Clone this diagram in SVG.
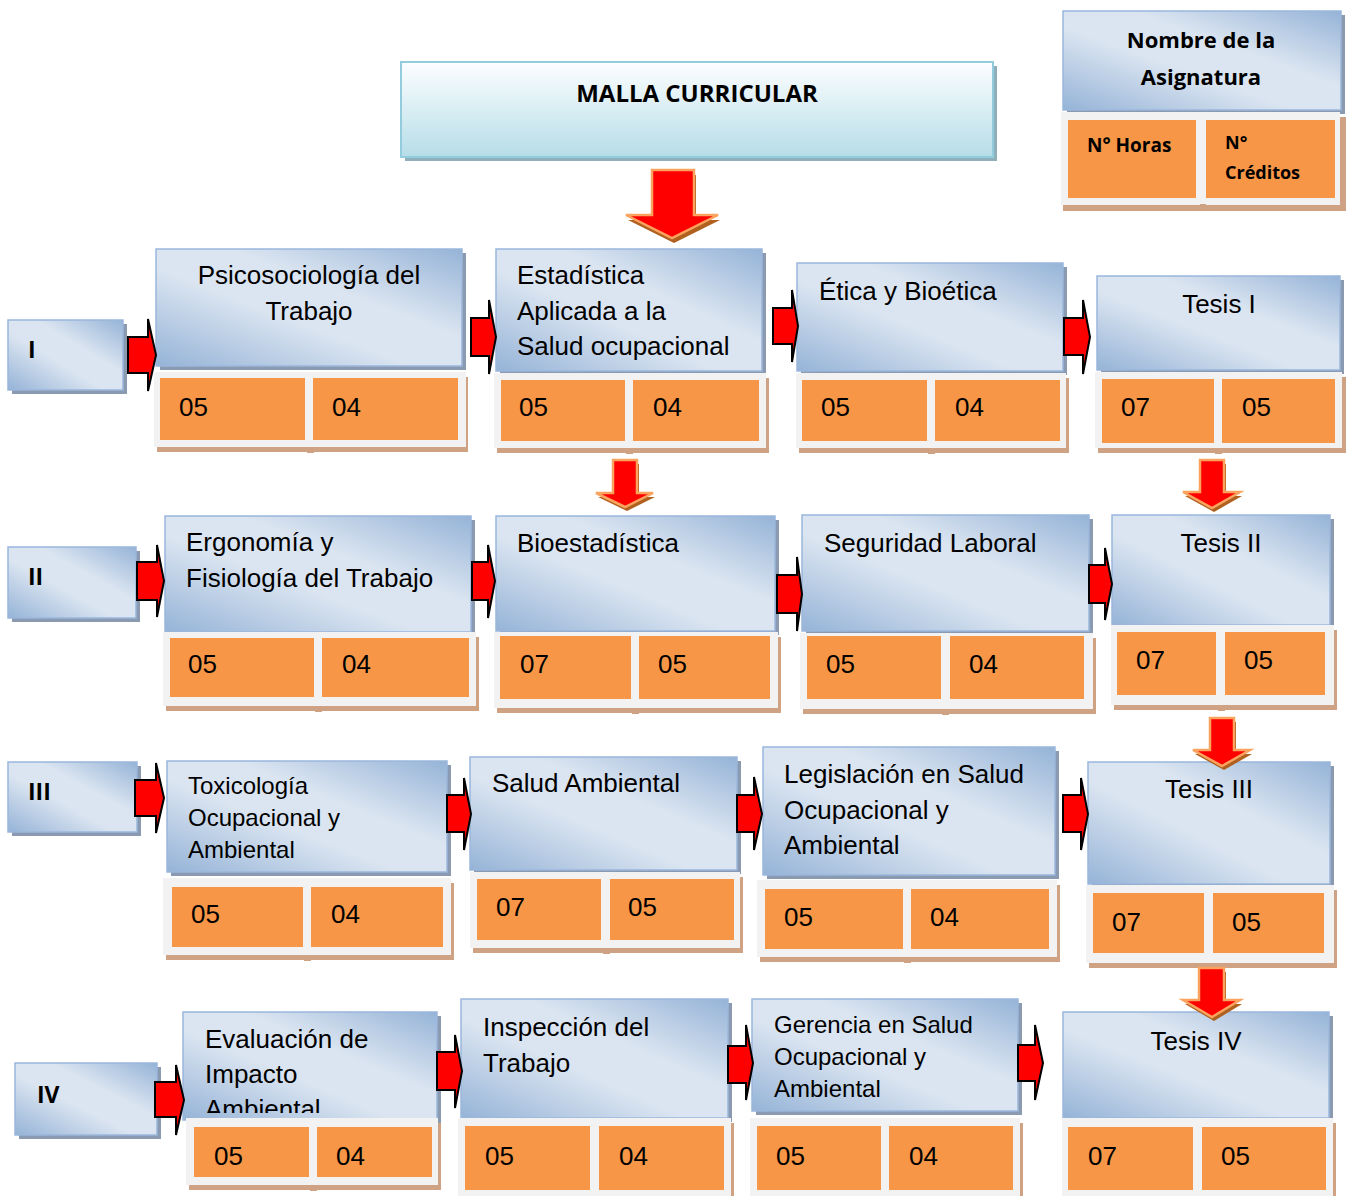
<svg xmlns="http://www.w3.org/2000/svg" width="1352" height="1196" viewBox="0 0 1352 1196">
<defs>
<linearGradient id="bg" x1="0" y1="1" x2="1" y2="0">
<stop offset="0" stop-color="#95b3d7"/>
<stop offset="0.42" stop-color="#dbe5f1"/>
<stop offset="0.62" stop-color="#dbe5f1"/>
<stop offset="1" stop-color="#95b3d7"/>
</linearGradient>
<linearGradient id="tg" x1="0" y1="0" x2="0" y2="1">
<stop offset="0" stop-color="#fdfeff"/>
<stop offset="1" stop-color="#b6dde8"/>
</linearGradient>
<clipPath id="evclip"><rect x="183" y="1012" width="254" height="101"/></clipPath>
</defs>
<style>
.sh{fill:#8a9bb1}
.box{fill:url(#bg);stroke:#9bb7dc;stroke-width:1.5}
.tsh{fill:#cfa283}
.tbl{fill:#f2f2f2}
.cell{fill:#f79646}
.tx{font-family:"Liberation Sans",Arial,sans-serif;font-size:26px;fill:#000}
.sm{font-size:24px}
.c{text-anchor:middle}
.b{font-family:"Open Sans","Liberation Sans",sans-serif;font-weight:bold;fill:#000}
.ra{fill:#ff0000;stroke:#000;stroke-width:2;stroke-linejoin:miter}
.da{fill:#ff0000;stroke:#f9a35e;stroke-width:2.5}
.ds{fill:#b0601f}
</style>

<g id="title">
<rect x="405" y="66" width="592" height="95" fill="#8fb0bb"/>
<rect x="401" y="62" width="592" height="95" fill="url(#tg)" stroke="#93cddd" stroke-width="2"/>
<text class="b c" x="697" y="102" font-size="24">MALLA CURRICULAR</text>
</g>

<g id="legend">
<rect class="sh" x="1067" y="15" width="278" height="99"/>
<rect class="box" x="1063" y="11" width="278" height="99"/>
<text class="b c" x="1201" y="48" font-size="22">Nombre de la</text>
<text class="b c" x="1201" y="85" font-size="22">Asignatura</text>
<rect class="tsh" x="1063" y="117" width="283" height="94"/>
<rect class="tbl" x="1061" y="112" width="279" height="93"/>
<rect class="tsh" x="1200" y="204" width="6" height="7"/>
<rect class="cell" x="1068" y="120" width="128" height="78"/>
<rect class="cell" x="1206" y="120" width="129" height="78"/>
<text class="b" x="1087" y="152" font-size="19">N° Horas</text>
<text class="b" x="1225" y="149" font-size="18">N°</text>
<text class="b" x="1225" y="179" font-size="18">Créditos</text>
</g>

<!-- Row I -->
<g id="sem-I">
<rect class="sh" x="12" y="324" width="115" height="70"/>
<rect class="box" x="8" y="320" width="115" height="70"/>
<text class="b" x="28" y="358" font-size="23">I</text>
</g>
<g id="psicosociologia">
<rect class="sh" x="160" y="253" width="306" height="117"/>
<rect class="box" x="156" y="249" width="306" height="117"/>
<text class="tx c" x="309" y="284">Psicosociología del</text>
<text class="tx c" x="309" y="320">Trabajo</text>
<rect class="tsh" x="157" y="377" width="311" height="75"/>
<rect class="tbl" x="154" y="372" width="312" height="75"/>
<rect class="tsh" x="307" y="447" width="7" height="6"/>
<rect class="cell" x="160" y="378" width="145" height="62"/>
<rect class="cell" x="313" y="378" width="145" height="62"/>
<text class="tx" x="179" y="416">05</text>
<text class="tx" x="332" y="416">04</text>
</g>
<g id="estadistica">
<rect class="sh" x="500" y="253" width="266" height="122"/>
<rect class="box" x="496" y="249" width="266" height="122"/>
<text class="tx" x="517" y="284">Estadística</text>
<text class="tx" x="517" y="320">Aplicada a la</text>
<text class="tx" x="517" y="355">Salud ocupacional</text>
<rect class="tsh" x="497" y="378" width="272" height="75"/>
<rect class="tbl" x="494" y="373" width="272" height="75"/>
<rect class="tsh" x="626" y="448" width="7" height="6"/>
<rect class="cell" x="501" y="380" width="124" height="61"/>
<rect class="cell" x="633" y="380" width="126" height="61"/>
<text class="tx" x="519" y="416">05</text>
<text class="tx" x="653" y="416">04</text>
</g>
<g id="etica">
<rect class="sh" x="801" y="267" width="266" height="108"/>
<rect class="box" x="797" y="263" width="266" height="108"/>
<text class="tx" x="819" y="300">Ética y Bioética</text>
<rect class="tsh" x="799" y="378" width="270" height="75"/>
<rect class="tbl" x="796" y="373" width="270" height="75"/>
<rect class="tsh" x="928" y="448" width="7" height="6"/>
<rect class="cell" x="802" y="380" width="125" height="61"/>
<rect class="cell" x="935" y="380" width="125" height="61"/>
<text class="tx" x="821" y="416">05</text>
<text class="tx" x="955" y="416">04</text>
</g>
<g id="tesis-I">
<rect class="sh" x="1101" y="280" width="243" height="94"/>
<rect class="box" x="1097" y="276" width="243" height="94"/>
<text class="tx c" x="1219" y="313">Tesis I</text>
<rect class="tsh" x="1098" y="377" width="248" height="76"/>
<rect class="tbl" x="1095" y="372" width="247" height="76"/>
<rect class="tsh" x="1215" y="448" width="7" height="6"/>
<rect class="cell" x="1102" y="379" width="112" height="64"/>
<rect class="cell" x="1222" y="379" width="113" height="64"/>
<text class="tx" x="1121" y="416">07</text>
<text class="tx" x="1242" y="416">05</text>
</g>

<!-- Row II -->
<g id="sem-II">
<rect class="sh" x="12" y="551" width="128" height="71"/>
<rect class="box" x="8" y="547" width="128" height="71"/>
<text class="b" x="28" y="585" font-size="23">II</text>
</g>
<g id="ergonomia">
<rect class="sh" x="169" y="520" width="306" height="116"/>
<rect class="box" x="165" y="516" width="306" height="116"/>
<text class="tx" x="186" y="551">Ergonomía y</text>
<text class="tx" x="186" y="587">Fisiología del Trabajo</text>
<rect class="tsh" x="166" y="637" width="313" height="74"/>
<rect class="tbl" x="163" y="632" width="313" height="74"/>
<rect class="tsh" x="315" y="706" width="7" height="6"/>
<rect class="cell" x="170" y="638" width="144" height="59"/>
<rect class="cell" x="322" y="638" width="147" height="59"/>
<text class="tx" x="188" y="673">05</text>
<text class="tx" x="342" y="673">04</text>
</g>
<g id="bioestadistica">
<rect class="sh" x="500" y="520" width="279" height="115"/>
<rect class="box" x="496" y="516" width="279" height="115"/>
<text class="tx" x="517" y="552">Bioestadística</text>
<rect class="tsh" x="497" y="637" width="284" height="76"/>
<rect class="tbl" x="494" y="632" width="284" height="76"/>
<rect class="tsh" x="632" y="708" width="7" height="6"/>
<rect class="cell" x="500" y="636" width="131" height="63"/>
<rect class="cell" x="639" y="636" width="131" height="63"/>
<text class="tx" x="520" y="673">07</text>
<text class="tx" x="658" y="673">05</text>
</g>
<g id="seguridad">
<rect class="sh" x="806" y="519" width="287" height="116"/>
<rect class="box" x="802" y="515" width="287" height="116"/>
<text class="tx" x="824" y="552">Seguridad Laboral</text>
<rect class="tsh" x="803" y="638" width="293" height="76"/>
<rect class="tbl" x="800" y="633" width="293" height="76"/>
<rect class="tsh" x="942" y="709" width="7" height="6"/>
<rect class="cell" x="807" y="636" width="134" height="63"/>
<rect class="cell" x="950" y="636" width="134" height="63"/>
<text class="tx" x="826" y="673">05</text>
<text class="tx" x="969" y="673">04</text>
</g>
<g id="tesis-II">
<rect class="sh" x="1116" y="519" width="218" height="110"/>
<rect class="box" x="1112" y="515" width="218" height="110"/>
<text class="tx c" x="1221" y="552">Tesis II</text>
<rect class="tsh" x="1114" y="630" width="223" height="80"/>
<rect class="tbl" x="1111" y="625" width="223" height="80"/>
<rect class="tsh" x="1218" y="705" width="7" height="6"/>
<rect class="cell" x="1117" y="632" width="99" height="63"/>
<rect class="cell" x="1225" y="632" width="100" height="63"/>
<text class="tx" x="1136" y="669">07</text>
<text class="tx" x="1244" y="669">05</text>
</g>

<!-- Row III -->
<g id="sem-III">
<rect class="sh" x="12" y="766" width="129" height="70"/>
<rect class="box" x="8" y="762" width="129" height="70"/>
<text class="b" x="28" y="800" font-size="23">III</text>
</g>
<g id="toxicologia">
<rect class="sh" x="171" y="765" width="280" height="111"/>
<rect class="box" x="167" y="761" width="280" height="111"/>
<text class="tx sm" x="188" y="794">Toxicología</text>
<text class="tx sm" x="188" y="826">Ocupacional y</text>
<text class="tx sm" x="188" y="858">Ambiental</text>
<rect class="tsh" x="166" y="883" width="288" height="77"/>
<rect class="tbl" x="163" y="878" width="288" height="77"/>
<rect class="tsh" x="304" y="955" width="7" height="6"/>
<rect class="cell" x="172" y="887" width="131" height="60"/>
<rect class="cell" x="311" y="887" width="132" height="60"/>
<text class="tx" x="191" y="923">05</text>
<text class="tx" x="331" y="923">04</text>
</g>
<g id="salud-ambiental">
<rect class="sh" x="474" y="761" width="267" height="113"/>
<rect class="box" x="470" y="757" width="267" height="113"/>
<text class="tx" x="492" y="792">Salud Ambiental</text>
<rect class="tsh" x="473" y="877" width="270" height="76"/>
<rect class="tbl" x="470" y="872" width="270" height="76"/>
<rect class="tsh" x="603" y="948" width="7" height="6"/>
<rect class="cell" x="477" y="879" width="124" height="61"/>
<rect class="cell" x="610" y="879" width="124" height="61"/>
<text class="tx" x="496" y="916">07</text>
<text class="tx" x="628" y="916">05</text>
</g>
<g id="legislacion">
<rect class="sh" x="767" y="751" width="292" height="128"/>
<rect class="box" x="763" y="747" width="292" height="128"/>
<text class="tx" x="784" y="783">Legislación en Salud</text>
<text class="tx" x="784" y="819">Ocupacional y</text>
<text class="tx" x="784" y="854">Ambiental</text>
<rect class="tsh" x="760" y="885" width="300" height="77"/>
<rect class="tbl" x="757" y="880" width="300" height="77"/>
<rect class="tsh" x="904" y="957" width="7" height="6"/>
<rect class="cell" x="765" y="889" width="138" height="60"/>
<rect class="cell" x="911" y="889" width="138" height="60"/>
<text class="tx" x="784" y="926">05</text>
<text class="tx" x="930" y="926">04</text>
</g>
<g id="tesis-III">
<rect class="sh" x="1092" y="766" width="242" height="122"/>
<rect class="box" x="1088" y="762" width="242" height="122"/>
<text class="tx c" x="1209" y="798">Tesis III</text>
<rect class="tsh" x="1089" y="890" width="248" height="78"/>
<rect class="tbl" x="1086" y="885" width="248" height="78"/>
<rect class="tsh" x="1205" y="963" width="7" height="6"/>
<rect class="cell" x="1093" y="893" width="111" height="60"/>
<rect class="cell" x="1213" y="893" width="111" height="60"/>
<text class="tx" x="1112" y="931">07</text>
<text class="tx" x="1232" y="931">05</text>
</g>

<!-- Row IV -->
<g id="sem-IV">
<rect class="sh" x="19" y="1067" width="142" height="72"/>
<rect class="box" x="15" y="1063" width="142" height="72"/>
<text class="b" x="37" y="1103" font-size="23">IV</text>
</g>
<g id="evaluacion">
<rect class="sh" x="187" y="1016" width="254" height="108"/>
<rect class="box" x="183" y="1012" width="254" height="108"/>
<g clip-path="url(#evclip)">
<text class="tx" x="205" y="1048">Evaluación de</text>
<text class="tx" x="205" y="1083">Impacto</text>
<text class="tx" x="205" y="1118">Ambiental</text>
</g>
<rect class="tsh" x="189" y="1123" width="252" height="67"/>
<rect class="tbl" x="186" y="1118" width="252" height="67"/>
<rect class="tsh" x="310" y="1185" width="7" height="6"/>
<rect class="cell" x="194" y="1127" width="115" height="50"/>
<rect class="cell" x="317" y="1127" width="115" height="50"/>
<text class="tx" x="214" y="1165">05</text>
<text class="tx" x="336" y="1165">04</text>
</g>
<g id="inspeccion">
<rect class="sh" x="465" y="1003" width="267" height="119"/>
<rect class="box" x="461" y="999" width="267" height="119"/>
<text class="tx" x="483" y="1036">Inspección del</text>
<text class="tx" x="483" y="1072">Trabajo</text>
<rect class="tsh" x="461" y="1123" width="273" height="78"/>
<rect class="tbl" x="458" y="1118" width="273" height="78"/>
<rect class="cell" x="465" y="1126" width="125" height="64"/>
<rect class="cell" x="599" y="1126" width="125" height="64"/>
<text class="tx" x="485" y="1165">05</text>
<text class="tx" x="619" y="1165">04</text>
</g>
<g id="gerencia">
<rect class="sh" x="756" y="1003" width="266" height="112"/>
<rect class="box" x="752" y="999" width="266" height="112"/>
<text class="tx sm" x="774" y="1033">Gerencia en Salud</text>
<text class="tx sm" x="774" y="1065">Ocupacional y</text>
<text class="tx sm" x="774" y="1097">Ambiental</text>
<rect class="tsh" x="753" y="1123" width="270" height="78"/>
<rect class="tbl" x="750" y="1118" width="270" height="78"/>
<rect class="cell" x="757" y="1126" width="124" height="64"/>
<rect class="cell" x="889" y="1126" width="124" height="64"/>
<text class="tx" x="776" y="1165">05</text>
<text class="tx" x="909" y="1165">04</text>
</g>
<g id="tesis-IV">
<rect class="sh" x="1067" y="1016" width="266" height="106"/>
<rect class="box" x="1063" y="1012" width="266" height="106"/>
<text class="tx c" x="1196" y="1050">Tesis IV</text>
<rect class="tsh" x="1065" y="1123" width="271" height="78"/>
<rect class="tbl" x="1062" y="1118" width="271" height="78"/>
<rect class="cell" x="1068" y="1127" width="125" height="63"/>
<rect class="cell" x="1202" y="1127" width="124" height="63"/>
<text class="tx" x="1088" y="1165">07</text>
<text class="tx" x="1221" y="1165">05</text>
</g>

<g id="connectors">
<polygon class="ds" transform="translate(2,5)" points="652,170 694,170 694,215 718,215 672,238 626,215 652,215"/>
<polygon class="da" points="652,170 694,170 694,215 718,215 672,238 626,215 652,215"/>
<polygon class="ds" transform="translate(2,4)" points="613,460 637,460 637,493 653,493 625,507 596,493 613,493"/>
<polygon class="da" points="613,460 637,460 637,493 653,493 625,507 596,493 613,493"/>
<polygon class="ds" transform="translate(2,4)" points="1200,460 1224,460 1224,492 1240,492 1212,508 1183,492 1200,492"/>
<polygon class="da" points="1200,460 1224,460 1224,492 1240,492 1212,508 1183,492 1200,492"/>
<polygon class="ds" transform="translate(2,4)" points="1210,718 1234,718 1234,750 1250,750 1222,766 1193,750 1210,750"/>
<polygon class="da" points="1210,718 1234,718 1234,750 1250,750 1222,766 1193,750 1210,750"/>
<polygon class="ds" transform="translate(2,4)" points="1199,968 1224,968 1224,1000 1240,1000 1212,1017 1183,1000 1199,1000"/>
<polygon class="da" points="1199,968 1224,968 1224,1000 1240,1000 1212,1017 1183,1000 1199,1000"/>
<polygon class="ra" points="128,337 148,337 148,319 156,355 148,391 148,373 128,373"/>
<polygon class="ra" points="471,318 489,318 489,300 496,337 489,374 489,356 471,356"/>
<polygon class="ra" points="773,308 792,308 792,290 798,326 792,362 792,344 773,344"/>
<polygon class="ra" points="1064,318 1083,318 1083,300 1090,337 1083,374 1083,355 1064,355"/>
<polygon class="ra" points="137,562 157,562 157,545 164,581 157,617 157,600 137,600"/>
<polygon class="ra" points="472,562 488,562 488,545 495,581 488,618 488,600 472,600"/>
<polygon class="ra" points="777,575 797,575 797,557 802,594 797,631 797,613 777,613"/>
<polygon class="ra" points="1089,565 1105,565 1105,548 1112,584 1105,620 1105,603 1089,603"/>
<polygon class="ra" points="135,780 156,780 156,763 164,798 156,833 156,816 135,816"/>
<polygon class="ra" points="447,795 464,795 464,778 471,814 464,850 464,832 447,832"/>
<polygon class="ra" points="737,795 754,795 754,777 762,814 754,850 754,832 737,832"/>
<polygon class="ra" points="1063,795 1081,795 1081,778 1088,814 1081,850 1081,832 1063,832"/>
<polygon class="ra" points="155,1082 176,1082 176,1065 184,1100 176,1135 176,1117 155,1117"/>
<polygon class="ra" points="437,1052 455,1052 455,1035 462,1071 455,1108 455,1090 437,1090"/>
<polygon class="ra" points="728,1046 746,1046 746,1025 753,1063 746,1100 746,1083 728,1083"/>
<polygon class="ra" points="1018,1045 1035,1045 1035,1025 1043,1063 1035,1100 1035,1081 1018,1081"/>
</g>
</svg>
